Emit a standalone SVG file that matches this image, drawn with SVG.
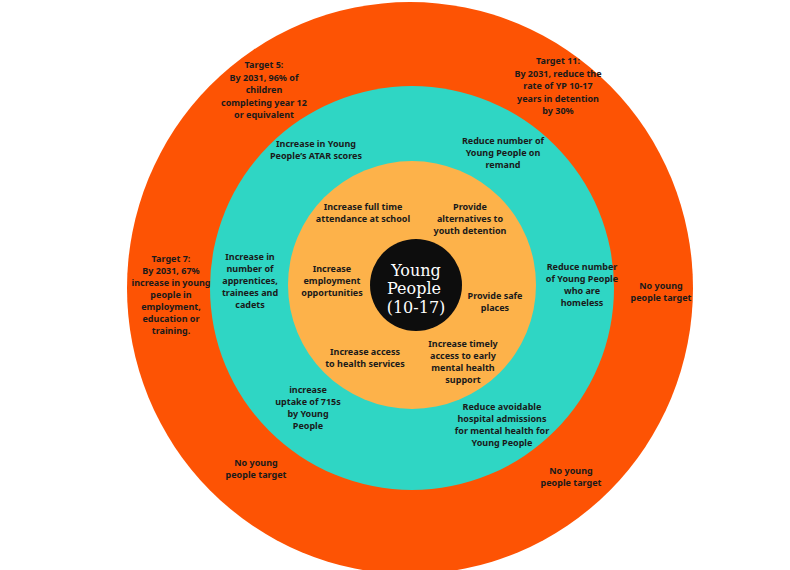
<svg xmlns="http://www.w3.org/2000/svg" width="790" height="570" viewBox="0 0 790 570">
<style>
text{font-family:"Noto Sans","DejaVu Sans",sans-serif;font-weight:bold;font-size:9px;fill:#1a1a1a;text-anchor:middle}
.c{font-family:"DejaVu Serif","Liberation Serif",serif;font-weight:normal;font-size:16px;fill:#fff}
</style>
<rect width="790" height="570" fill="#fff"/>
<g id="ring-outer"><ellipse cx="410" cy="288" rx="283" ry="286" fill="#fd5304"/></g>
<g id="ring-middle"><circle cx="412" cy="288" r="202" fill="#2fd6c4"/></g>
<g id="ring-inner"><circle cx="412" cy="285" r="124" fill="#fdb24a"/></g>
<g id="center"><circle cx="416" cy="285" r="46" fill="#0d0d0d"/>
<text class="c" x="416" y="276">Young</text><text class="c" x="414" y="294">People</text><text class="c" x="416" y="313">(10-17)</text></g>
<g id="outer-labels">
<text x="264" y="68">Target 5:<tspan x="264" dy="12.5">By 2031, 96% of</tspan><tspan x="264" dy="12.5">children</tspan><tspan x="264" dy="12.5">completing year 12</tspan><tspan x="264" dy="12.5">or equivalent</tspan></text>
<text x="558" y="64">Target 11:<tspan x="558" dy="12.5">By 2031, reduce the</tspan><tspan x="558" dy="12.5">rate of YP 10-17</tspan><tspan x="558" dy="12.5">years in detention</tspan><tspan x="558" dy="12.5">by 30%</tspan></text>
<text x="171" y="262">Target 7:<tspan x="171" dy="12">By 2031, 67%</tspan><tspan x="171" dy="12">increase in young</tspan><tspan x="171" dy="12">people in</tspan><tspan x="171" dy="12">employment,</tspan><tspan x="171" dy="12">education or</tspan><tspan x="171" dy="12">training.</tspan></text>
<text x="661" y="289">No young<tspan x="661" dy="12">people target</tspan></text>
<text x="256" y="466">No young<tspan x="256" dy="12">people target</tspan></text>
<text x="571" y="474">No young<tspan x="571" dy="12">people target</tspan></text>
</g>
<g id="middle-labels">
<text x="316" y="147">Increase in Young<tspan x="316" dy="12">People’s ATAR scores</tspan></text>
<text x="503" y="144">Reduce number of<tspan x="503" dy="12">Young People on</tspan><tspan x="503" dy="12">remand</tspan></text>
<text x="250" y="260">Increase in<tspan x="250" dy="12">number of</tspan><tspan x="250" dy="12">apprentices,</tspan><tspan x="250" dy="12">trainees and</tspan><tspan x="250" dy="12">cadets</tspan></text>
<text x="582" y="270">Reduce number<tspan x="582" dy="12">of Young People</tspan><tspan x="582" dy="12">who are</tspan><tspan x="582" dy="12">homeless</tspan></text>
<text x="308" y="393">increase<tspan x="308" dy="12">uptake of 715s</tspan><tspan x="308" dy="12">by Young</tspan><tspan x="308" dy="12">People</tspan></text>
<text x="502" y="410">Reduce avoidable<tspan x="502" dy="12">hospital admissions</tspan><tspan x="502" dy="12">for mental health for</tspan><tspan x="502" dy="12">Young People</tspan></text>
</g>
<g id="inner-labels">
<text x="363" y="210">Increase full time<tspan x="363" dy="12">attendance at school</tspan></text>
<text x="470" y="210">Provide<tspan x="470" dy="12">alternatives to</tspan><tspan x="470" dy="12">youth detention</tspan></text>
<text x="332" y="272">Increase<tspan x="332" dy="12">employment</tspan><tspan x="332" dy="12">opportunities</tspan></text>
<text x="495" y="299">Provide safe<tspan x="495" dy="12">places</tspan></text>
<text x="365" y="355">Increase access<tspan x="365" dy="12">to health services</tspan></text>
<text x="463" y="347">Increase timely<tspan x="463" dy="12">access to early</tspan><tspan x="463" dy="12">mental health</tspan><tspan x="463" dy="12">support</tspan></text>
</g>
<g id="connectors"/>
</svg>
